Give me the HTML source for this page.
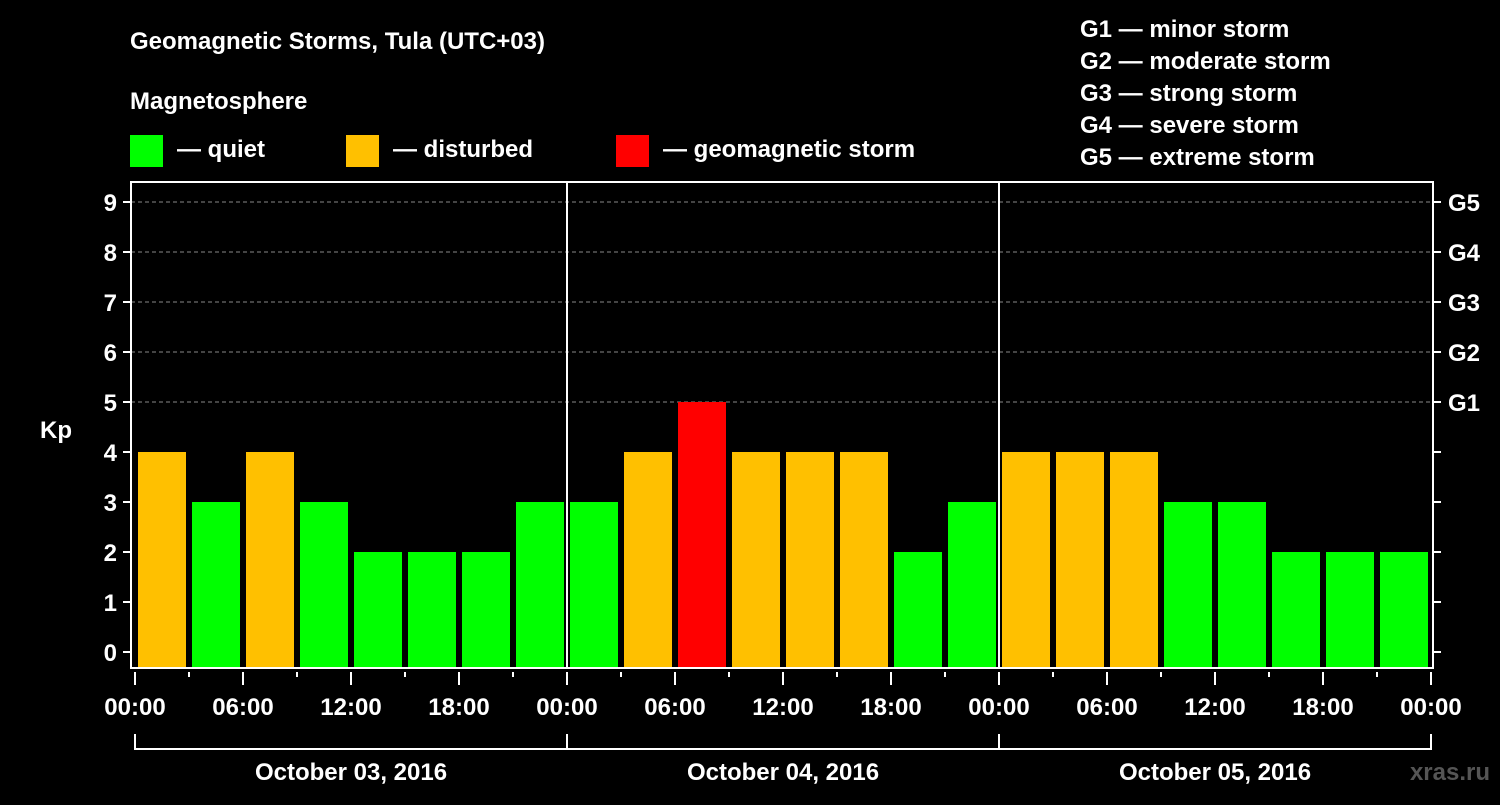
<!DOCTYPE html>
<html><head><meta charset="utf-8"><style>
body{margin:0;background:#000;width:1500px;height:800px;overflow:hidden}
svg text{font-family:"Liberation Sans",sans-serif;font-weight:bold;fill:#fff}
</style></head><body>
<svg id="c" width="1500" height="800">
<text x="130" y="49" font-size="24">Geomagnetic Storms, Tula (UTC+03)</text>
<text x="130" y="109" font-size="24">Magnetosphere</text>
<g><rect x="130" y="135" width="33" height="32" fill="#00ff00"/><text x="177" y="157" font-size="24">— quiet</text></g>
<g><rect x="346" y="135" width="33" height="32" fill="#ffc000"/><text x="393" y="157" font-size="24">— disturbed</text></g>
<g><rect x="616" y="135" width="33" height="32" fill="#ff0000"/><text x="663" y="157" font-size="24">— geomagnetic storm</text></g>
<g font-size="24">
<text x="1080" y="37">G1 — minor storm</text>
<text x="1080" y="69">G2 — moderate storm</text>
<text x="1080" y="101">G3 — strong storm</text>
<text x="1080" y="133">G4 — severe storm</text>
<text x="1080" y="165">G5 — extreme storm</text>
</g>
<text x="40" y="438" font-size="24">Kp</text>
<text x="1490" y="780" font-size="24" text-anchor="end" fill="#555" style="fill:#555">xras.ru</text>
<g id="grid"></g><g id="bars"></g><g id="axes"></g>
</svg>
<script>
const kpValues=[4,3,4,3,2,2,2,3, 3,4,5,4,4,4,2,3, 4,4,4,3,3,2,2,2];
const dayLabels=["October 03, 2016","October 04, 2016","October 05, 2016"];
const hourLabels=["00:00","06:00","12:00","18:00"];
const yTicks=[0,1,2,3,4,5,6,7,8,9];
const gLabels=["G1","G2","G3","G4","G5"];
const NS="http://www.w3.org/2000/svg";
const L=131,R=1433,T=182,B=668,X0=135,DAY=432;
const y=v=>652-v*50;
const x=h=>X0+h*DAY/24;
function mk(p,tag,a){const e=document.createElementNS(NS,tag);for(const k in a)e.setAttribute(k,a[k]);p.appendChild(e);return e;}
const grid=document.getElementById('grid'),bars=document.getElementById('bars'),axes=document.getElementById('axes');
for(let v=5;v<=9;v++){const l=mk(grid,'line',{x1:L,x2:R,y1:y(v),y2:y(v),stroke:'#888','stroke-dasharray':'4,3'});

}
kpValues.forEach((v,i)=>{const col=v>=5?'#ff0000':v>=4?'#ffc000':'#00ff00';
const r=mk(bars,'rect',{x:x(i*3)+3,y:y(v),width:48,height:B-y(v),fill:col});

});
const fr=mk(axes,'rect',{x:L,y:T,width:R-L,height:B-T,fill:'none',stroke:'#fff','stroke-width':2});


for(let d=1;d<3;d++){const l=mk(axes,'line',{x1:x(d*24),x2:x(d*24),y1:T,y2:B,stroke:'#fff','stroke-width':2});

}
yTicks.forEach(v=>{mk(axes,'line',{x1:L-8,x2:L,y1:y(v),y2:y(v),stroke:'#fff','stroke-width':2});
mk(axes,'line',{x1:R,x2:R+8,y1:y(v),y2:y(v),stroke:'#fff','stroke-width':2});
const t=mk(axes,'text',{x:L-14,y:y(v)+9,'font-size':24,'text-anchor':'end'});t.textContent=v;

});
gLabels.forEach((g,i)=>{const t=mk(axes,'text',{x:1448,y:y(5+i)+9,'font-size':24});t.textContent=g;

});
for(let h=0;h<=72;h+=3){const major=h%6===0;mk(axes,'line',{x1:x(h),x2:x(h),y1:B+4,y2:B+(major?17:9),stroke:'#fff','stroke-width':2});}
for(let h=0;h<=72;h+=6){const t=mk(axes,'text',{x:x(h),y:715,'font-size':24,'text-anchor':'middle'});t.textContent=hourLabels[(h/6)%4];

}
dayLabels.forEach((d,i)=>{mk(axes,'path',{d:`M${x(i*24)} 734V749H${x(i*24+24)}V734`,fill:'none',stroke:'#fff','stroke-width':2});
const t=mk(axes,'text',{x:x(i*24+12),y:780,'font-size':24,'text-anchor':'middle'});t.textContent=d;

});
</script>
</body></html>
